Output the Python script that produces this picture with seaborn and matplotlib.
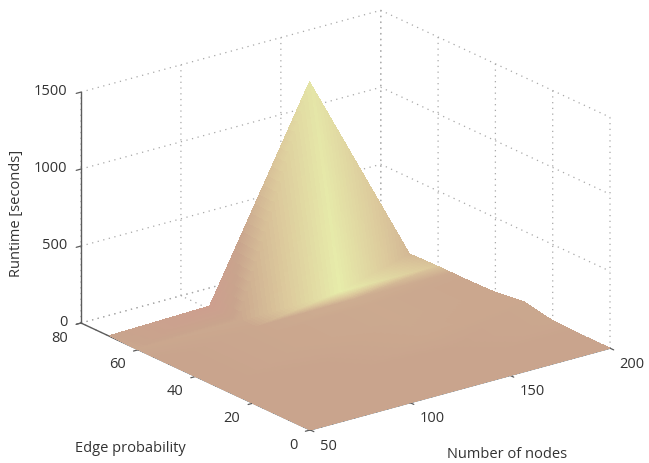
import numpy as np
import matplotlib
matplotlib.use("Agg")
import matplotlib.pyplot as plt
import seaborn as sns
from mpl_toolkits.mplot3d import proj3d

sns.set_theme(style="white")
plt.rcParams['font.family'] = ['Open Sans', 'DejaVu Sans']
plt.rcParams.update({"xtick.bottom": True, "ytick.left": True})

# ---- data ----
nodes = [50, 100, 150, 200]
edge_probability = [0, 10, 20, 30, 40, 50, 55, 60, 70]
runtime = [
    [0, 0, 0, 0],
    [0, 0, 0, 0],
    [0, 0, 5, 5],
    [0, 0, 5, 40],
    [0, 5, 10, 15],
    [0, 5, 15, 10],
    [0, 5, 10, 10],
    [0, 5, 15, 10],
    [5, 20, 1300, 5],
]
# light level of each vertex, as lit in the reference
shade = [
    [.33, .33, .33, .33],
    [.33, .33, .33, .33],
    [.33, .33, .34, .36],
    [.33, .34, .37, .36],
    [.33, .36, .38, .36],
    [.33, .36, .38, .36],
    [.34, .36, .42, .38],
    [.36, .38, 1.0, .62],
    [.33, .10, .93, .50],
]
x_ticks = [50, 100, 150, 200]
y_ticks = [0, 20, 40, 60, 80]
z_ticks = [0, 500, 1000, 1500]
surface_palette = ["#CF9C8F", "#C9A48D", "#DCC99C", "#E7ECAA"]
# ------------------------------------

W, H = 649, 463
fig = plt.figure(figsize=(W / 100, H / 100), dpi=100)
ax = fig.add_axes([0, 0, 1, 1], projection="3d", proj_type="ortho")
ax.view_init(elev=20.9, azim=-127.4)
ax.set_box_aspect((1, 1, 0.655))
ax.set_xlim(50, 200)
ax.set_ylim(0, 80)
ax.set_zlim(0, 1500)


def subdivide(a, n=24):
    """Subdivide a vertex table so the lighting can blend across each cell: every
    cell is treated as two flat triangles, which keeps the ridge lines straight."""
    a = np.asarray(a, float)
    rows, cols = a.shape
    out = np.zeros(((rows - 1) * n + 1, (cols - 1) * n + 1))
    for i in range(out.shape[0]):
        r0 = min(i // n, rows - 2)
        v = i / n - r0
        for j in range(out.shape[1]):
            c0 = min(j // n, cols - 2)
            u = j / n - c0
            z00, z10 = a[r0, c0], a[r0, c0 + 1]
            z01, z11 = a[r0 + 1, c0], a[r0 + 1, c0 + 1]
            if u >= v:
                out[i, j] = z00 + u * (z10 - z00) + v * (z11 - z10)
            else:
                out[i, j] = z00 + v * (z01 - z00) + u * (z11 - z01)
    return out


nx = np.asarray(nodes, float)
ny = np.asarray(edge_probability, float)
X = subdivide(np.tile(nx, (len(ny), 1)))
Y = subdivide(np.tile(ny[:, None], (1, len(nx))))
Z = subdivide(runtime)
S = subdivide(shade)
cmap = sns.blend_palette(surface_palette, as_cmap=True)
ax.plot_surface(X, Y, Z, facecolors=cmap(S), rstride=1, cstride=1,
                linewidth=0, antialiased=False, shade=False)

ax.set_xticks(x_ticks)
ax.set_yticks(y_ticks)
ax.set_zticks(z_ticks)
for a in (ax.xaxis, ax.yaxis, ax.zaxis):
    a.set_pane_color((1, 1, 1, 0))
    a.pane.set_edgecolor((1, 1, 1, 0))
    a.line.set_color("#5c5c5c")
    a.line.set_linewidth(1.0)
    a._axinfo["grid"].update(color="#a8a8a8", linestyle=(0, (1, 3.6)), linewidth=0.9)
    a._axinfo["tick"].update(inward_factor=0.2, outward_factor=0.0, linewidth={True: 0.9, False: 0.9})
    a._axinfo["axisline"]["color"] = "#5c5c5c"
ax.grid(True)
ax.tick_params(axis="both", labelsize=10.5, labelcolor="#333333", color="#5c5c5c")
ax.tick_params(axis="x", pad=1)
ax.tick_params(axis="y", pad=1)
ax.tick_params(axis="z", pad=-2.5)
for t in ax.get_xticklabels():
    t.set(ha="left", va="center_baseline")
for t in ax.get_yticklabels():
    t.set(ha="right", va="center_baseline")
for t in ax.get_zticklabels():
    t.set(ha="right", va="center")


def place():
    """Scale and shift the square axes so the box corners land where the reference has them."""
    fig.canvas.draw()
    M = ax.get_proj()
    def px(p):
        u, v, _ = proj3d.proj_transform(*p, M)
        return ax.transData.transform((u, v))
    left = px((50, 80, 0))
    right = px((200, 0, 0))
    scale = (610 - 81) / (right[0] - left[0])
    pos = ax.get_position()
    side = pos.width * scale
    cx, cy = (pos.x0 + pos.x1) / 2 * W, (pos.y0 + pos.y1) / 2 * H
    ox, oy = (left[0] - cx) * scale, (left[1] - cy) * scale
    ncx, ncy = 81 - ox, (H - 323) - oy
    ax.set_position([ncx / W - side / 2, ncy / H - side * W / H / 2, side, side * W / H])


place()

fig.text(17 / W, 1 - 213 / H, "Runtime [seconds]", rotation=90, ha="center", va="center",
         fontsize=10.5, color="#333333")
fig.text(130 / W, 1 - 449 / H, "Edge probability", ha="center", va="center",
         fontsize=10.5, color="#333333")
fig.text(507 / W, 1 - 455 / H, "Number of nodes", ha="center", va="center",
         fontsize=10.5, color="#333333")

fig.savefig("out.png", dpi=100, facecolor="white")
